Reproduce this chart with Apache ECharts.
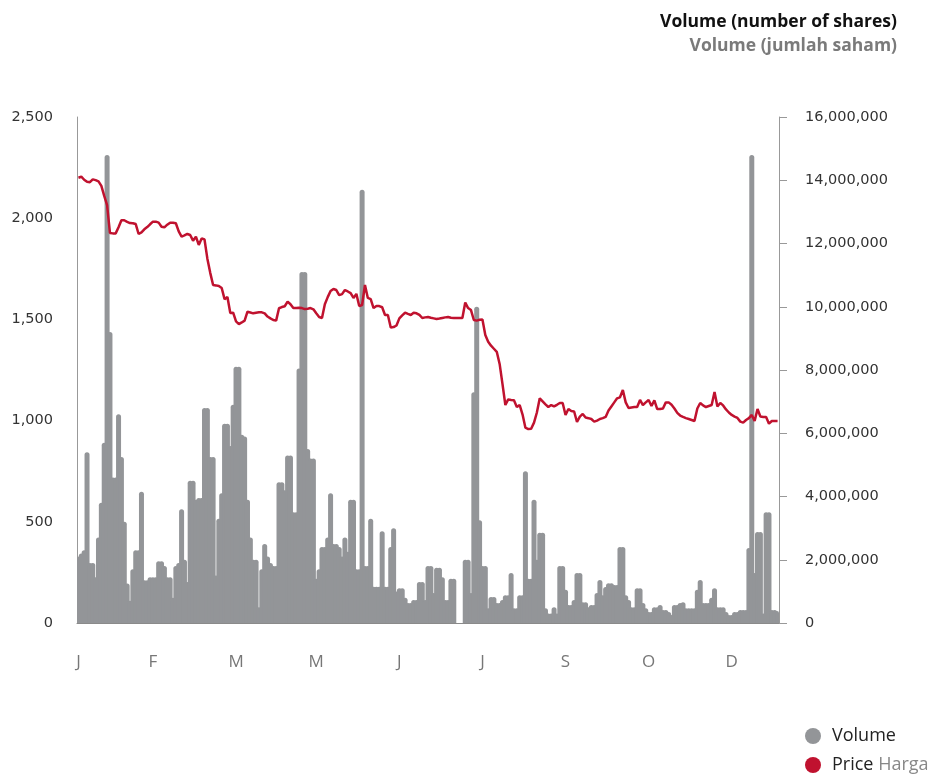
<!DOCTYPE html>
<html>
<head>
<meta charset="utf-8">
<script src="https://cdn.jsdelivr.net/npm/echarts@6/dist/echarts.min.js"></script>
<style>
  html, body { margin: 0; padding: 0; background: #fff; }
  #chart { width: 932px; height: 776px; }
</style>
</head>
<body>
<div id="chart"></div>
<script>
// Daily trading volume (millions of shares)
const volumeM = [
  2.1, 2.2, 2.3, 5.4, 1.9, 1.9, 1.45, 2.7, 3.8, 5.7,
  14.8, 9.2, 4.6, 4.6, 6.6, 5.25, 3.2, 1.25, 0.7, 1.7,
  2.3, 2.3, 4.15, 1.35, 1.35, 1.45, 1.45, 1.45, 1.95, 1.95,
  1.8, 1.45, 1.45, 0.8, 1.8, 1.9, 3.6, 2.0, 1.3, 4.5,
  4.5, 3.9, 3.95, 3.95, 6.8, 6.8, 5.25, 5.25, 1.5, 3.3,
  4.1, 6.3, 6.3, 5.6, 6.9, 8.1, 8.1, 5.95, 5.9, 3.9,
  2.7, 2.0, 2.0, 0.5, 1.7, 2.5, 2.1, 1.9, 1.8, 1.8,
  4.45, 4.45, 4.2, 5.3, 5.3, 3.5, 3.5, 8.05, 11.1, 11.1,
  5.5, 5.2, 5.2, 1.4, 1.7, 2.4, 2.4, 2.7, 4.1, 2.5,
  2.5, 2.4, 2.1, 2.7, 2.25, 3.9, 3.9, 1.7, 1.7, 13.7,
  1.8, 1.8, 3.3, 1.15, 1.15, 1.15, 2.9, 1.15, 1.15, 2.4,
  3.0, 1.0, 1.1, 1.1, 0.8, 0.63, 0.63, 0.73, 0.73, 1.3,
  1.3, 0.73, 1.8, 1.8, 0.95, 1.75, 1.75, 1.45, 0.73, 0.73,
  1.4, 1.4, 0, 0, 0, 2.0, 2.0, 0.95, 7.3, 10.0,
  3.25, 1.8, 1.8, 0.47, 0.82, 0.82, 0.63, 0.63, 0.73, 0.88,
  0.88, 1.58, 0.47, 0.47, 0.88, 0.88, 4.8, 1.4, 1.4, 3.9,
  2.0, 2.85, 2.85, 0.47, 0.3, 0.3, 0.5, 0.3, 1.8, 1.8,
  1.05, 0.57, 0.57, 0.73, 1.58, 1.58, 0.66, 0.66, 0.5, 0.57,
  0.57, 0.95, 1.36, 0.88, 1.14, 1.26, 1.26, 1.2, 1.2, 2.4,
  2.4, 0.88, 0.73, 0.5, 0.5, 1.1, 1.1, 0.63, 0.47, 0.35,
  0.35, 0.5, 0.5, 0.57, 0.41, 0.41, 0.35, 0.25, 0.57, 0.57,
  0.63, 0.66, 0.47, 0.47, 0.47, 0.47, 1.05, 1.36, 0.63, 0.63,
  0.63, 0.8, 1.1, 0.5, 0.5, 0.5, 0.35, 0.25, 0.25, 0.35,
  0.35, 0.41, 0.41, 0.41, 2.37, 14.8, 1.58, 2.88, 2.88, 0.3,
  3.5, 3.5, 0.41, 0.41, 0.38
];

// Daily closing price
const price = [
  2200, 2205, 2190, 2180, 2178, 2192, 2188, 2182, 2160, 2110,
  2065, 1927, 1925, 1925, 1955, 1990, 1990, 1982, 1976, 1975,
  1971, 1922, 1930, 1945, 1956, 1970, 1983, 1983, 1978, 1958,
  1955, 1968, 1978, 1978, 1975, 1935, 1909, 1915, 1922, 1917,
  1889, 1909, 1868, 1900, 1895, 1800, 1730, 1670, 1668, 1665,
  1655, 1600, 1611, 1532, 1533, 1490, 1477, 1485, 1494, 1538,
  1534, 1530, 1533, 1535, 1535, 1530, 1514, 1505, 1497, 1494,
  1555, 1561, 1565, 1588, 1575, 1556, 1556, 1558, 1556, 1551,
  1553, 1556, 1550, 1530, 1512, 1507, 1575, 1610, 1640, 1650,
  1645, 1620, 1625, 1645, 1638, 1630, 1606, 1626, 1566, 1571,
  1670, 1606, 1600, 1556, 1566, 1566, 1560, 1522, 1522, 1460,
  1462, 1470, 1505, 1520, 1533, 1527, 1522, 1533, 1530, 1522,
  1507, 1510, 1512, 1508, 1505, 1502, 1504, 1507, 1510, 1512,
  1508, 1507, 1507, 1507, 1507, 1583, 1556, 1546, 1497, 1494,
  1498, 1500, 1423, 1390, 1370, 1355, 1340, 1280, 1180, 1077,
  1105, 1102, 1100, 1067, 1077, 1030, 965, 958, 960, 990,
  1040, 1110, 1095, 1080, 1067, 1077, 1070, 1078, 1087, 1087,
  1028, 1057, 1047, 1045, 993, 1020, 1033, 1015, 1012, 1008,
  995, 1000, 1008, 1012, 1018, 1050, 1070, 1090, 1110, 1115,
  1151, 1090, 1062, 1065, 1067, 1067, 1102, 1077, 1090, 1102,
  1072, 1100, 1057, 1057, 1060, 1090, 1090, 1078, 1060, 1038,
  1025, 1018, 1012, 1008, 1003, 998, 1060, 1087, 1075, 1067,
  1072, 1077, 1141, 1070, 1087, 1075, 1055, 1040, 1028, 1020,
  1013, 995, 990, 1003, 1012, 1028, 998, 1057, 1020, 1018,
  1018, 985, 998, 998, 998
];

// Month tick labels and the trading-day index they sit on
const monthLabels = ['J', 'F', 'M', 'M', 'J', 'J', 'S', 'O', 'D'];
const monthIndex = [0, 26, 55, 83, 112, 141, 170, 199, 228];

const days = volumeM.map((_, i) => String(i + 1));
const volume = volumeM.map(v => Math.round(v * 1000000));

const chart = echarts.init(document.getElementById('chart'), null, { renderer: 'canvas' });
const fmt = v => v.toString().replace(/\B(?=(\d{3})+(?!\d))/g, ',');

chart.setOption({
  animation: false,
  backgroundColor: '#ffffff',
  grid: { left: 77, right: 153, top: 117, bottom: 153, containLabel: false },
  graphic: [
    { type: 'text', right: 35, top: 13,
      style: { text: 'Volume (number of shares)', fill: '#111', font: 'bold 17.5px "Open Sans", sans-serif', textAlign: 'right' } },
    { type: 'text', right: 35, top: 37,
      style: { text: 'Volume (jumlah saham)', fill: '#7a7a7a', font: 'bold 17.5px "Open Sans", sans-serif', textAlign: 'right' } }
  ],
  legend: {
    orient: 'vertical',
    left: 805,
    top: 727,
    padding: 0,
    itemGap: 11,
    itemWidth: 16,
    itemHeight: 16,
    icon: 'circle',
    data: ['Volume', 'Price'],
    formatter: name => name === 'Price' ? '{a|Price} {b|Harga}' : '{a|Volume}',
    textStyle: {
      fontFamily: '"Open Sans", sans-serif',
      fontSize: 18,
      padding: [0, 0, 0, 6],
      rich: {
        a: { fontSize: 18, color: '#222', fontFamily: '"Open Sans", sans-serif' },
        b: { fontSize: 18, color: '#888', fontFamily: '"Open Sans", sans-serif' }
      }
    }
  },
  xAxis: {
    type: 'category',
    data: days,
    boundaryGap: true,
    axisLine: { show: true, lineStyle: { color: '#8a8a8a', width: 1 } },
    axisTick: { show: false },
    axisLabel: {
      interval: idx => monthIndex.includes(idx),
      formatter: (val, idx) => monthLabels[monthIndex.indexOf(idx)] || '',
      margin: 31,
      color: '#777',
      fontSize: 17,
      fontFamily: '"Open Sans", sans-serif'
    },
    splitLine: { show: false }
  },
  yAxis: [
    {
      type: 'value',
      min: 0, max: 2500, interval: 500,
      position: 'left',
      axisLine: { show: true, lineStyle: { color: '#999', width: 1 } },
      axisTick: { show: false },
      splitLine: { show: false },
      axisLabel: {
        formatter: fmt, margin: 24,
        color: '#333', fontSize: 14.5, fontFamily: '"DejaVu Sans", sans-serif'
      }
    },
    {
      type: 'value',
      min: 0, max: 16000000, interval: 2000000,
      position: 'right',
      axisLine: { show: true, lineStyle: { color: '#999', width: 1 } },
      axisTick: { show: true, inside: false, length: 8, lineStyle: { color: '#999' } },
      splitLine: { show: false },
      axisLabel: {
        formatter: fmt, margin: 26,
        color: '#333', fontSize: 14.5, fontFamily: '"DejaVu Sans", sans-serif'
      }
    }
  ],
  series: [
    {
      name: 'Volume',
      type: 'bar',
      yAxisIndex: 1,
      data: volume,
      barWidth: 5,
      barGap: '-100%',
      itemStyle: { color: '#939598', borderRadius: [2.5, 2.5, 0, 0] },
      z: 2
    },
    {
      name: 'Price',
      type: 'line',
      yAxisIndex: 0,
      data: price,
      showSymbol: false,
      symbol: 'none',
      lineStyle: { color: '#c0122f', width: 2.5 },
      itemStyle: { color: '#c0122f' },
      z: 5
    }
  ]
});
</script>
</body>
</html>
